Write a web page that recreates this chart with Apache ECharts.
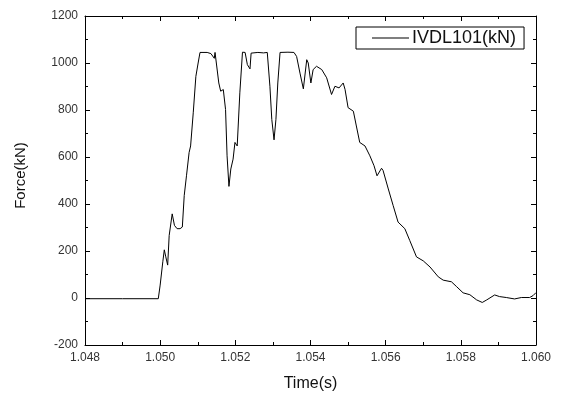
<!DOCTYPE html>
<html><head><meta charset="utf-8">
<script src="https://cdn.jsdelivr.net/npm/echarts@6/dist/echarts.min.js"></script>
<style>html,body{margin:0;padding:0;background:#fff}#c{width:563px;height:397px}</style>
</head><body><div id="c"></div>
<script>
const times = [1.0480,1.0490,1.04995,1.0500,1.05007,1.05011,1.05015,1.0502,1.05024,1.05032,1.05038,1.05045,1.05053,1.05059,1.05064,1.0507,1.05077,1.05081,1.05088,1.05095,1.05101,1.05106,1.05125,1.05135,1.0514,1.05144,1.05146,1.0515,1.05156,1.05161,1.05168,1.05174,1.05178,1.05183,1.05188,1.05194,1.05199,1.05205,1.05212,1.05219,1.05226,1.05232,1.05239,1.05242,1.0526,1.05275,1.05285,1.05292,1.05297,1.05303,1.05308,1.05313,1.05319,1.0534,1.05356,1.05363,1.05372,1.05381,1.0539,1.05394,1.05401,1.05407,1.05416,1.0543,1.05443,1.05456,1.05465,1.05476,1.05487,1.05492,1.055,1.05514,1.05522,1.05531,1.05545,1.05558,1.05569,1.05577,1.05589,1.05593,1.05607,1.0562,1.05633,1.05651,1.05664,1.05682,1.057,1.05718,1.0574,1.05753,1.05775,1.05789,1.05806,1.05824,1.05842,1.05857,1.05869,1.0589,1.05903,1.05921,1.05943,1.05961,1.05983,1.05992,1.06];
const forces = [-3,-3,-3,55,154,205,175,140,266,358,309,295,295,302,436,520,619,647,788,943,1000,1045,1045,1040,1048,1020,1045,1045,915,880,887,802,605,475,549,591,662,647,873,1046,1045,993,975,1042,1045,1043,1045,901,760,673,760,915,1045,1046,1045,1028,957,890,1014,1000,915,972,986,972,937,866,901,894,915,887,810,795,732,662,647,605,563,520,552,543,464,393,323,295,245,175,158,132,90,76,69,48,22,14,-8,-19,-8,13,6,2,-4,2,2,10,23];
const seriesName = 'IVDL101(kN)';
const xTitle = 'Time(s)';
const yTitle = 'Force(kN)';

const data = times.map((t,i)=>[t,forces[i]]);
const chart = echarts.init(document.getElementById('c'), null, {renderer:'canvas'});
const font = 'Liberation Sans, Arial, sans-serif';
const axisCommon = {
  axisLine:{show:true,onZero:false,lineStyle:{color:'#000',width:1}},
  axisTick:{show:true,inside:true,length:5,lineStyle:{color:'#000'}},
  minorTick:{show:true,splitNumber:2,length:3,lineStyle:{color:'#000'}},
  splitLine:{show:false}
};
chart.setOption({
  animation:false,
  backgroundColor:'#fff',
  grid:{left:85,right:27,top:16,bottom:50,containLabel:false},
  legend:{
    data:[{name:seriesName,icon:'rect'}],
    left:356, top:27,
    itemWidth:37, itemHeight:1, itemGap:0,
    padding:[2,8,2,16],
    borderColor:'#000', borderWidth:1,
    textStyle:{fontFamily:font,fontSize:18,color:'#111',padding:[0,0,0,-2]}
  },
  xAxis:[
    Object.assign({type:'value',min:1.048,max:1.060,interval:0.002,position:'bottom',
      name:xTitle,nameLocation:'middle',nameGap:31,
      nameTextStyle:{fontFamily:font,fontSize:16,color:'#111'},
      axisLabel:{fontFamily:font,fontSize:12,color:'#333',margin:7,formatter:v=>v.toFixed(3)}},axisCommon),
    Object.assign({type:'value',min:1.048,max:1.060,interval:0.002,position:'top',
      axisLabel:{show:false}},axisCommon)
  ],
  yAxis:[
    Object.assign({type:'value',min:-200,max:1200,interval:200,position:'left',
      name:yTitle,nameLocation:'middle',nameGap:57,nameRotate:90,
      nameTextStyle:{fontFamily:font,fontSize:15,color:'#111',padding:[0,0,0,10]},
      axisLabel:{fontFamily:font,fontSize:12,color:'#333',margin:7,formatter:v=>String(v)}},axisCommon),
    Object.assign({type:'value',min:-200,max:1200,interval:200,position:'right',
      axisLabel:{show:false}},axisCommon)
  ],
  series:[{
    name:seriesName,type:'line',data:data,xAxisIndex:0,yAxisIndex:0,
    showSymbol:false,symbol:'none',
    lineStyle:{color:'#000',width:1},itemStyle:{color:'#000'}
  }]
});
</script></body></html>
